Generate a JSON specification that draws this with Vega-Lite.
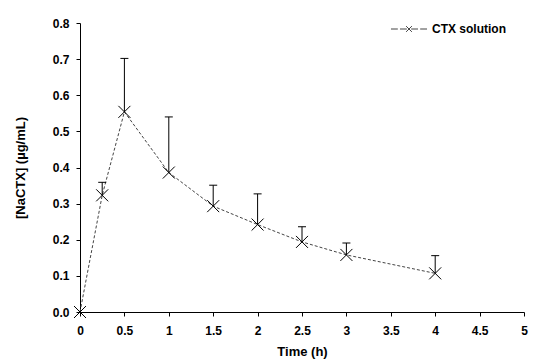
{
  "$schema": "https://vega.github.io/schema/vega-lite/v6.json",
  "autosize": "none",
  "width": 444,
  "height": 289,
  "padding": {"left": 80, "top": 23, "right": 13, "bottom": 52},
  "background": "white",
  "config": {
    "view": {"stroke": null},
    "font": "Liberation Sans",
    "axis": {
      "grid": false,
      "domainColor": "black",
      "tickColor": "black",
      "tickSize": 4,
      "labelFont": "Liberation Sans",
      "labelFontSize": 12,
      "labelFontWeight": "bold",
      "labelColor": "black",
      "labelOverlap": false,
      "titleFont": "Liberation Sans",
      "titleFontSize": 13,
      "titleFontWeight": "bold",
      "titleColor": "black"
    }
  },
  "data": {
    "values": [
      {"t": 0, "c": 0, "upper": null},
      {"t": 0.25, "c": 0.323, "upper": 0.359},
      {"t": 0.5, "c": 0.554, "upper": 0.702},
      {"t": 1, "c": 0.386, "upper": 0.54},
      {"t": 1.5, "c": 0.293, "upper": 0.351},
      {"t": 2, "c": 0.242, "upper": 0.327},
      {"t": 2.5, "c": 0.194, "upper": 0.236},
      {"t": 3, "c": 0.158, "upper": 0.191},
      {"t": 4, "c": 0.107, "upper": 0.156}
    ]
  },
  "encoding": {
    "x": {
      "field": "t",
      "type": "quantitative",
      "scale": {"domain": [0, 5], "nice": false},
      "axis": {"values": [0, 0.5, 1, 1.5, 2, 2.5, 3, 3.5, 4, 4.5, 5], "format": "~g", "title": "Time (h)", "labelPadding": 9, "titlePadding": 9, "labelFlush": false}
    },
    "y": {
      "field": "c",
      "type": "quantitative",
      "scale": {"domain": [0, 0.8], "nice": false},
      "axis": {"values": [0, 0.1, 0.2, 0.3, 0.4, 0.5, 0.6, 0.7, 0.8], "format": ".1f", "title": "[NaCTX] (µg/mL)", "labelPadding": 7, "titlePadding": 25, "labelFlush": false}
    }
  },
  "layer": [
    {
      "mark": {"type": "line", "strokeDash": [3, 2], "strokeWidth": 1},
      "encoding": {
        "color": {
          "datum": "CTX solution",
          "type": "nominal",
          "scale": {"range": ["#444444"]},
          "legend": {
            "title": null,
            "orient": "none",
            "legendX": 310,
            "legendY": -13,
            "symbolType": "M-1,0L-0.62,0M-0.5,0L-0.12,0M-0.16,-0.16L0.16,0.16M-0.16,0.16L0.16,-0.16M0.12,0L0.5,0M0.62,0L1,0",
            "symbolSize": 1300,
            "symbolStrokeWidth": 1,
            "symbolStrokeColor": "#444444",
            "symbolFillColor": "transparent",
            "labelFont": "Liberation Sans",
            "labelFontSize": 12,
            "labelFontWeight": "bold",
            "labelColor": "black",
            "labelOffset": 4
          }
        }
      }
    },
    {
      "mark": {"type": "point", "shape": "M-1,-1L1,1M-1,1L1,-1", "size": 144, "filled": false, "stroke": "black", "strokeWidth": 1, "opacity": 1}
    },
    {
      "transform": [{"filter": "datum.upper != null"}],
      "mark": {"type": "rule", "color": "black", "strokeWidth": 1},
      "encoding": {"y2": {"field": "upper"}}
    },
    {
      "transform": [{"filter": "datum.upper != null"}],
      "mark": {"type": "tick", "orient": "horizontal", "color": "black", "size": 8, "thickness": 1, "opacity": 1},
      "encoding": {"y": {"field": "upper", "type": "quantitative"}}
    }
  ]
}
